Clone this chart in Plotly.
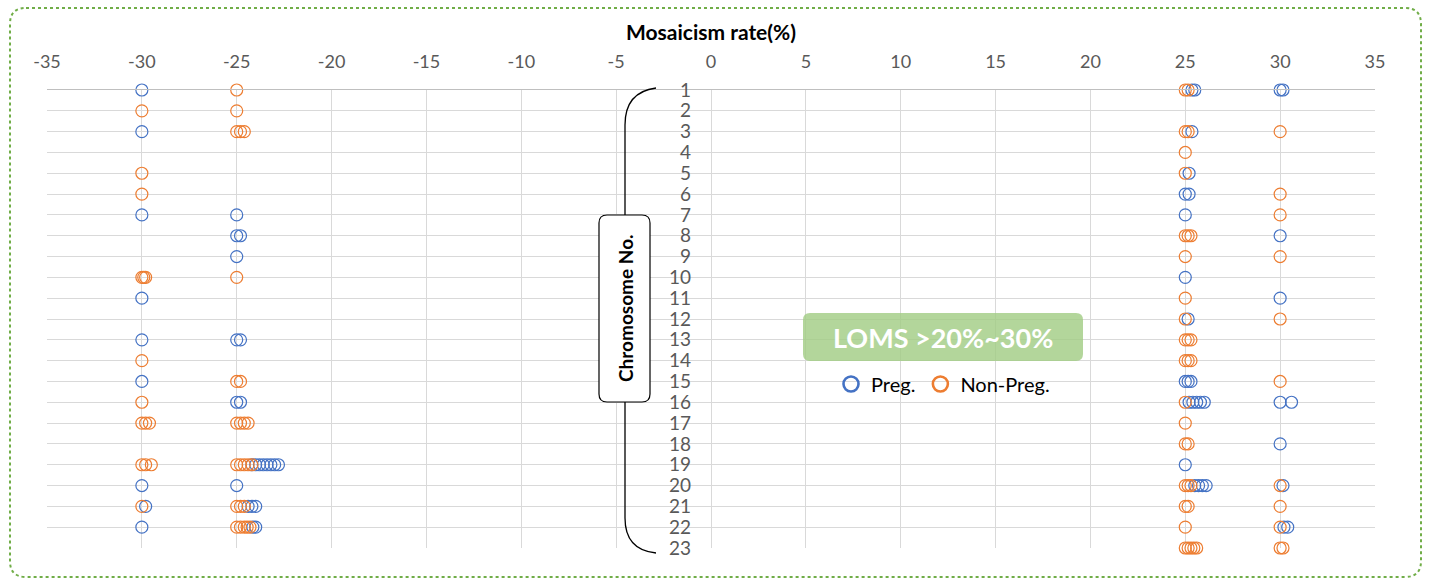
import plotly.graph_objects as go

# ---------------- data ----------------
# Preg. (blue) : chromosome number and mosaicism rate (%)
preg_chrom = [1, 1, 1, 1, 1,
              3, 3,
              5,
              6, 6,
              7, 7, 7,
              8, 8, 8,
              9,
              10,
              11, 11,
              12,
              13, 13, 13,
              15, 15, 15, 15,
              16, 16, 16, 16, 16, 16, 16, 16, 16,
              18,
              19, 19, 19, 19, 19, 19, 19, 19, 19,
              20, 20, 20, 20, 20, 20, 20,
              21, 21, 21, 21,
              22, 22, 22, 22, 22]
preg_rate = [-30, 25.35, 25.5, 30, 30.15,
             -30, 25.35,
             25.2,
             25, 25.2,
             -30, -25, 25,
             -25, -24.8, 30,
             -25,
             25,
             -30, 30,
             25.15,
             -30, -25, -24.8,
             -30, 25, 25.15, 25.3,
             -25, -24.8, 25.2, 25.4, 25.6, 25.8, 26.0, 30, 30.6,
             30,
             -24.2, -24.0, -23.8, -23.6, -23.4, -23.2, -23.0, -22.8, 25,
             -30, -25, 25.5, 25.7, 25.9, 26.1, 30.15,
             -29.8, -24.4, -24.2, -24.0,
             -30, -24.15, -24.0, 30.2, 30.4]

# Non-Preg. (orange)
nonpreg_chrom = [1, 1, 1,
                 2, 2,
                 3, 3, 3, 3, 3, 3,
                 4,
                 5, 5,
                 6, 6,
                 7,
                 8, 8, 8,
                 9, 9,
                 10, 10, 10, 10,
                 11,
                 12, 12,
                 13, 13, 13,
                 14, 14, 14, 14,
                 15, 15, 15,
                 16, 16,
                 17, 17, 17, 17, 17, 17, 17, 17,
                 18, 18,
                 19, 19, 19, 19, 19, 19, 19, 19,
                 20, 20, 20, 20,
                 21, 21, 21, 21, 21, 21, 21,
                 22, 22, 22, 22, 22, 22, 22,
                 23, 23, 23, 23, 23, 23, 23]
nonpreg_rate = [-25, 25, 25.15,
                -30, -25,
                -25, -24.8, -24.6, 25, 25.15, 30,
                25,
                -30, 25,
                -30, 30,
                30,
                25, 25.15, 25.3,
                25, 30,
                -30, -29.9, -29.8, -25,
                25,
                25, 30,
                25, 25.15, 25.3,
                -30, 25, 25.15, 25.3,
                -25, -24.8, 30,
                -30, 25,
                -30, -29.8, -29.6, -25, -24.8, -24.6, -24.4, 25,
                25, 25.15,
                -30, -29.8, -29.5, -25, -24.8, -24.6, -24.4, -24.2,
                25, 25.15, 25.3, 30,
                -30, -25, -24.8, -24.6, 25, 25.15, 30,
                -25, -24.8, -24.6, -24.45, -24.3, 25, 30,
                25, 25.15, 25.3, 25.45, 25.6, 30, 30.15]

x_ticks = list(range(-35, 40, 5))
chrom_ticks = list(range(1, 24))

BLUE = "#4472C4"
ORANGE = "#ED7D31"
FONT = "Lato"

# --------------- geometry helpers (pixel -> paper) ---------------
W, H = 1431, 583
L, R, T, B = 47, 1375, 90, 548


def px(x):
    return (x - L) / (R - L)


def py(y):
    return (B - y) / (B - T)


def path_px(cmds, close=False):
    s = ""
    for item in cmds:
        cmd = item[0]
        coords = " ".join(f"{px(p[0]):.5f},{py(p[1]):.5f}" for p in item[1:])
        s += f"{cmd} {coords} "
    return s + ("Z" if close else "")


def rounded_path(x0, y0, x1, y1, r):
    return path_px([
        ("M", (x0 + r, y0)), ("L", (x1 - r, y0)), ("Q", (x1, y0), (x1, y0 + r)),
        ("L", (x1, y1 - r)), ("Q", (x1, y1), (x1 - r, y1)),
        ("L", (x0 + r, y1)), ("Q", (x0, y1), (x0, y1 - r)),
        ("L", (x0, y0 + r)), ("Q", (x0, y0), (x0 + r, y0)),
    ], close=True)


fig = go.Figure()

fig.add_trace(go.Scatter(
    x=preg_rate, y=preg_chrom, mode="markers", name="Preg.", showlegend=False,
    marker=dict(symbol="circle-open", size=12, color=BLUE, line=dict(width=1.2, color=BLUE)),
    cliponaxis=False,
))
fig.add_trace(go.Scatter(
    x=nonpreg_rate, y=nonpreg_chrom, mode="markers", name="Non-Preg.", showlegend=False,
    marker=dict(symbol="circle-open", size=12, color=ORANGE, line=dict(width=1.2, color=ORANGE)),
    cliponaxis=False,
))
# legend entries (thicker symbols as in the reference)
fig.add_trace(go.Scatter(
    x=[None], y=[None], mode="markers", name="Preg.",
    marker=dict(symbol="circle-open", size=15, color=BLUE, line=dict(width=2.6, color=BLUE)),
))
fig.add_trace(go.Scatter(
    x=[None], y=[None], mode="markers", name="Non-Preg.",
    marker=dict(symbol="circle-open", size=15, color=ORANGE, line=dict(width=2.6, color=ORANGE)),
))

shapes = [
    # outer green dotted rounded border
    dict(type="path", xref="paper", yref="paper", path=rounded_path(10, 8, 1421, 577, 16),
         line=dict(color="#70AD47", width=2, dash="dot"), layer="below"),
    # bracket
    dict(type="path", xref="paper", yref="paper",
         path=path_px([("M", (656, 88)), ("Q", (625, 92), (625, 125)), ("L", (625, 215))]),
         line=dict(color="black", width=1.3)),
    dict(type="path", xref="paper", yref="paper",
         path=path_px([("M", (625, 402)), ("L", (625, 518)), ("Q", (625, 550), (656, 553))]),
         line=dict(color="black", width=1.3)),
    # box around "Chromosome No."
    dict(type="path", xref="paper", yref="paper", path=rounded_path(599, 215, 650, 402, 8),
         line=dict(color="black", width=1.2), fillcolor="white"),
    # green label box
    dict(type="path", xref="paper", yref="paper", path=rounded_path(803, 313, 1083, 361, 7),
         line=dict(width=0), fillcolor="rgba(160,204,130,0.8)"),
]

annotations = [
    dict(text="<b>Mosaicism rate(%)</b>", x=px(711), y=py(31), xref="paper", yref="paper",
         showarrow=False, font=dict(family=FONT, size=21, color="black"),
         xanchor="center", yanchor="middle"),
    dict(text="<b>Chromosome No.</b>", x=px(625), y=py(308), xref="paper", yref="paper",
         showarrow=False, textangle=-90, font=dict(family=FONT, size=19, color="black"),
         xanchor="center", yanchor="middle"),
    dict(text="<b>LOMS &gt;20%~30%</b>", x=px(943), y=py(337), xref="paper", yref="paper",
         showarrow=False, font=dict(family=FONT, size=27, color="white"),
         xanchor="center", yanchor="middle"),
]

fig.update_layout(
    width=W, height=H,
    margin=dict(l=L, r=W - R, t=T, b=H - B, pad=0),
    paper_bgcolor="white", plot_bgcolor="white",
    font=dict(family=FONT),
    shapes=shapes, annotations=annotations,
    legend=dict(orientation="h", x=px(943), y=py(384), xanchor="center", yanchor="middle",
                bgcolor="rgba(0,0,0,0)", font=dict(family=FONT, size=20, color="black"),
                itemwidth=30, tracegroupgap=0),
    xaxis=dict(range=[-35, 35], side="top", tickvals=x_ticks, ticktext=[str(v) for v in x_ticks],
               showgrid=True, gridcolor="#D9D9D9", gridwidth=1, zeroline=False,
               showline=True, linecolor="#BFBFBF", linewidth=1, mirror=False,
               tickfont=dict(family=FONT, size=18, color="#595959"),
               ticks="", ticklabelstandoff=14, fixedrange=True),
    yaxis=dict(range=[23, 1], tickvals=chrom_ticks, ticktext=[str(v) for v in chrom_ticks],
               anchor="free", position=0.5, showgrid=True, gridcolor="#D9D9D9", gridwidth=1,
               zeroline=False, showline=False, ticks="",
               tickfont=dict(family=FONT, size=19, color="#595959"),
               ticklabelstandoff=20, fixedrange=True),
)

fig.write_html("out.html", post_script="document.body.style.margin='0px';",
               config={"displayModeBar": False})
